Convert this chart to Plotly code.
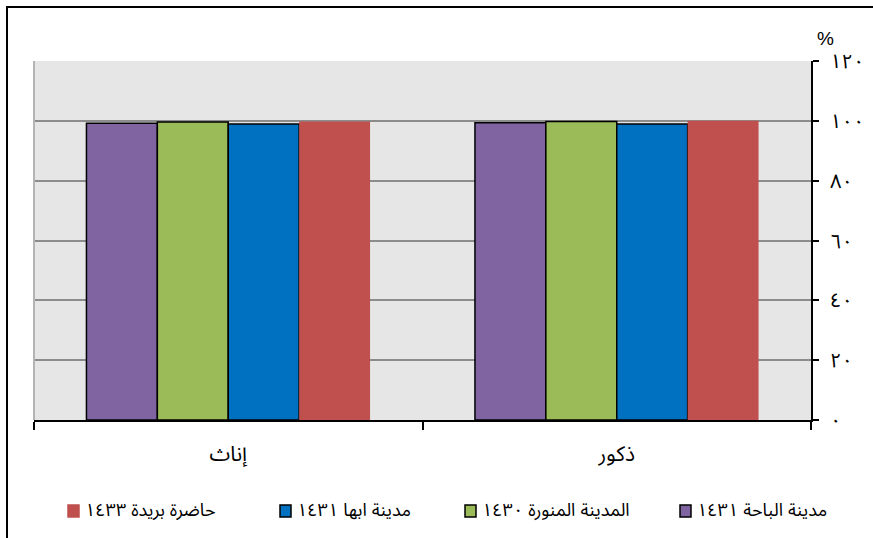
import plotly.graph_objects as go

# Categories (left to right) and series
categories = ["إناث", "ذكور"]
series_names = ["مدينة الباحة ١٤٣١", "المدينة المنورة ١٤٣٠", "مدينة ابها ١٤٣١", "حاضرة بريدة ١٤٣٣"]
series_colors = ["#8064A2", "#9BBB59", "#0070C0", "#C0504D"]
series_values = [
    [99.2, 99.4],   # مدينة الباحة ١٤٣١
    [99.6, 99.8],   # المدينة المنورة ١٤٣٠
    [98.9, 98.9],   # مدينة ابها ١٤٣١
    [99.8, 100.0],  # حاضرة بريدة ١٤٣٣
]
y_tick_values = [0, 20, 40, 60, 80, 100, 120]
y_tick_labels = ["٠", "٢٠", "٤٠", "٦٠", "٨٠", "١٠٠", "١٢٠"]

FONT = "Liberation Sans, Noto Sans Arabic, DejaVu Sans, Arial, sans-serif"
W, H = 873, 538
ML, MR, MT, MB = 34, 62, 61, 118
PW, PH = W - ML - MR, H - MT - MB


def px_x(px):
    return (px - ML) / PW


def px_y(py):
    return (H - MB - py) / PH


fig = go.Figure()
for name, color, vals in zip(series_names, series_colors, series_values):
    outlined = color != "#C0504D"
    fig.add_trace(go.Bar(
        x=categories, y=vals, name=name,
        marker=dict(color=color,
                    line=dict(color="#000000" if outlined else color,
                              width=1.5 if outlined else 0)),
        showlegend=False,
    ))

shapes = []
annotations = []

# Outer frame (left and top edges)
shapes.append(dict(type="rect", xref="paper", yref="paper",
                   x0=px_x(7), x1=px_x(W + 20), y0=px_y(H + 20), y1=px_y(7),
                   line=dict(color="#000000", width=2), fillcolor="rgba(0,0,0,0)",
                   layer="above"))
# Light left border of the plot area
shapes.append(dict(type="line", xref="paper", yref="paper",
                   x0=0, x1=0, y0=0, y1=1,
                   line=dict(color="#b4b4b4", width=2), layer="above"))

# Legend row: swatch followed by label
legend_swatch_left = [680, 465, 280, 68]
legend_y = 511
for name, color, sx in zip(series_names, series_colors, legend_swatch_left):
    shapes.append(dict(type="rect", xref="paper", yref="paper",
                       x0=px_x(sx), x1=px_x(sx + 11),
                       y0=px_y(legend_y + 6), y1=px_y(legend_y - 6),
                       fillcolor=color,
                       line=dict(color="#000000" if color != "#C0504D" else color, width=1.5)))
    annotations.append(dict(xref="paper", yref="paper",
                            x=px_x(sx + 15), y=px_y(legend_y - 1),
                            xanchor="left", yanchor="middle",
                            text=name, showarrow=False,
                            font=dict(family=FONT, size=18, color="#000000")))

# Unit label above the value axis
annotations.append(dict(xref="paper", yref="paper",
                        x=px_x(825), y=px_y(38), xanchor="center", yanchor="middle",
                        text="%", showarrow=False,
                        font=dict(family=FONT, size=19, color="#000000")))

fig.update_layout(
    width=W, height=H,
    margin=dict(l=ML, r=MR, t=MT, b=MB),
    paper_bgcolor="#ffffff",
    plot_bgcolor="#e6e6e6",
    barmode="group",
    bargap=0.27,
    bargroupgap=0,
    font=dict(family=FONT, size=15, color="#000000"),
    shapes=shapes,
    annotations=annotations,
    xaxis=dict(
        type="category",
        automargin=False,
        showline=True, linecolor="#000000", linewidth=2,
        ticks="outside", tickson="boundaries", ticklen=8, tickwidth=2,
        tickcolor="#000000",
        tickfont=dict(family=FONT, size=21, color="#000000"),
        showgrid=False,
        ticklabelstandoff=14,
    ),
    yaxis=dict(
        side="right",
        automargin=False,
        range=[0, 120],
        tickvals=y_tick_values, ticktext=y_tick_labels,
        showline=True, linecolor="#000000", linewidth=2,
        ticks="outside", ticklen=6, tickwidth=2, tickcolor="#000000",
        tickfont=dict(family=FONT, size=20, color="#000000"),
        showgrid=True, gridcolor="#8c8c8c", gridwidth=1.5,
        zeroline=False,
        ticklabelstandoff=7,
    ),
)

fig.write_html("out.html")
